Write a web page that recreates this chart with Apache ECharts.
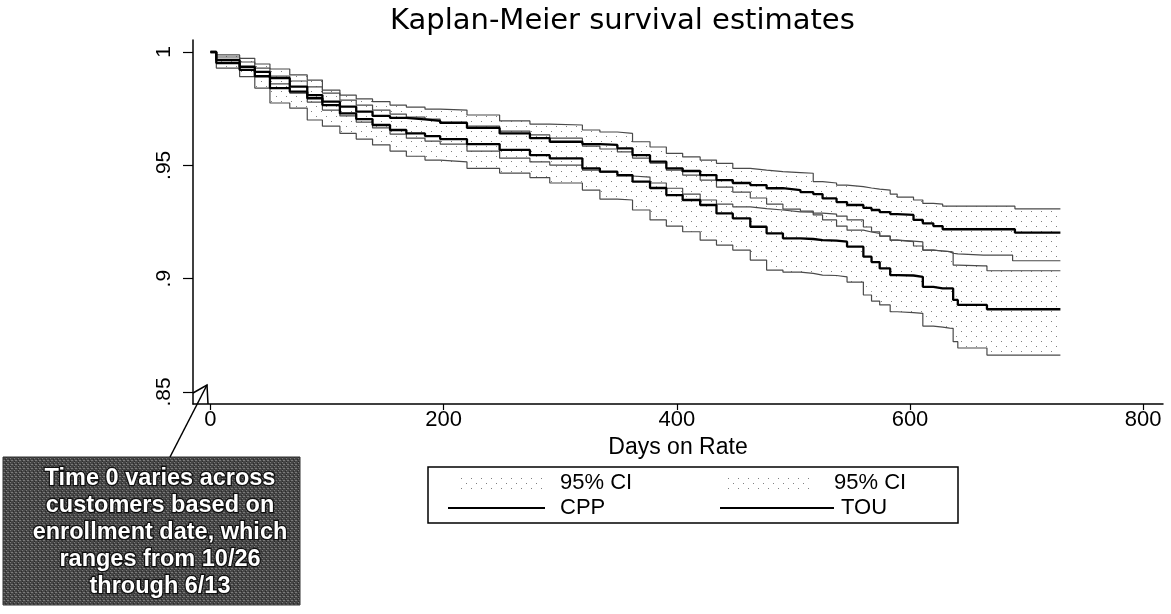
<!DOCTYPE html>
<html><head><meta charset="utf-8">
<script src="https://cdn.jsdelivr.net/npm/echarts@6/dist/echarts.min.js"></script>
<style>html,body{margin:0;padding:0;background:#fff}#c{width:1171px;height:614px}</style>
</head><body><div id="c"></div>
<script>
// ---- data ----
const days = [0, 5, 25, 38, 51, 68, 83, 96, 111, 125, 139, 154, 168, 184, 197, 220, 248, 274, 291, 319, 334, 349, 362, 377, 391, 405, 420, 434, 448, 463, 477, 491, 506, 517, 525, 537, 546, 560, 567, 574, 583, 589, 603, 611, 620, 628, 634, 637, 641, 663, 666, 688, 690, 729];
const cpp = [1.0000, .9965, .9935, .9912, .9885, .9847, .9810, .9781, .9759, .9737, .9718, .9709, .9703, .9696, .9687, .9665, .9641, .9620, .9604, .9594, .9590, .9575, .9545, .9516, .9487, .9475, .9457, .9435, .9422, .9413, .9399, .9391, .9382, .9373, .9354, .9338, .9325, .9312, .9303, .9294, .9285, .9281, .9259, .9244, .9232, .9218, .9218, .9218, .9218, .9218, .9218, .9218, .9203, .9203];
const cppHi = [1.0000, .9987, .9972, .9947, .9925, .9899, .9876, .9832, .9810, .9793, .9781, .9766, .9757, .9748, .9744, .9722, .9696, .9682, .9678, .9656, .9647, .9641, .9604, .9581, .9553, .9537, .9523, .9509, .9487, .9479, .9472, .9468, .9465, .9428, .9422, .9413, .9406, .9400, .9395, .9391, .9373, .9360, .9347, .9332, .9329, .9320, .9320, .9320, .9320, .9320, .9320, .9320, .9308, .9308];
const cppLo = [1.0000, .9956, .9921, .9890, .9859, .9819, .9779, .9744, .9718, .9691, .9665, .9638, .9620, .9607, .9594, .9563, .9532, .9515, .9501, .9479, .9470, .9453, .9448, .9422, .9399, .9373, .9347, .9329, .9317, .9309, .9303, .9295, .9294, .9281, .9259, .9232, .9214, .9206, .9200, .9188, .9170, .9163, .9144, .9126, .9122, .9119, .9112, .9109, .9104, .9104, .9104, .9079, .9079, .9079];
const tou = [1.0000, .9951, .9921, .9894, .9841, .9825, .9796, .9766, .9729, .9704, .9678, .9656, .9641, .9629, .9616, .9594, .9568, .9545, .9531, .9487, .9472, .9457, .9428, .9400, .9369, .9347, .9325, .9288, .9266, .9229, .9200, .9178, .9175, .9170, .9168, .9163, .9141, .9097, .9073, .9045, .9016, .9014, .9008, .8964, .8957, .8957, .8957, .8906, .8884, .8884, .8865, .8865, .8865, .8865];
const touHi = [1.0000, .9978, .9956, .9929, .9894, .9872, .9846, .9819, .9788, .9766, .9744, .9726, .9713, .9704, .9691, .9673, .9651, .9634, .9620, .9585, .9572, .9559, .9532, .9510, .9479, .9457, .9435, .9404, .9382, .9356, .9329, .9307, .9298, .9289, .9285, .9276, .9259, .9228, .9207, .9188, .9170, .9166, .9162, .9126, .9122, .9119, .9117, .9060, .9056, .9056, .9035, .9035, .9035, .9035];
const touLo = [1.0000, .9929, .9891, .9841, .9775, .9752, .9700, .9673, .9641, .9616, .9590, .9563, .9540, .9523, .9515, .9487, .9466, .9446, .9422, .9391, .9351, .9347, .9303, .9259, .9232, .9207, .9170, .9148, .9126, .9082, .9038, .9029, .9023, .9016, .9014, .9008, .8985, .8928, .8901, .8884, .8854, .8850, .8847, .8791, .8786, .8782, .8781, .8722, .8694, .8694, .8663, .8663, .8663, .8663];
const xTicks = [0, 200, 400, 600, 800];
const yTicks = [0.85, 0.9, 0.95, 1];
const yTickLabels = ['.85', '.9', '.95', '1'];
const titleText = 'Kaplan-Meier survival estimates';
const xName = 'Days on Rate';
const noteText = 'Time 0 varies across\ncustomers based on\nenrollment date, which\nranges from 10/26\nthrough 6/13';

// ---- styling helpers ----
const FONT = '"Liberation Sans", Arial, sans-serif';
const WIDE = '"DejaVu Sans", "Liberation Sans", sans-serif';
function dotCanvas() {
  const c = document.createElement('canvas'); c.width = 10; c.height = 10;
  const g = c.getContext('2d');
  g.fillStyle = '#808080';
  g.fillRect(1, 1, 1, 1); g.fillRect(6, 6, 1, 1);
  return c;
}
function darkCanvas() {
  const c = document.createElement('canvas'); c.width = 4; c.height = 4;
  const g = c.getContext('2d');
  g.fillStyle = '#464646'; g.fillRect(0, 0, 4, 4);
  g.fillStyle = '#7a7a7a'; g.fillRect(0, 0, 1, 1); g.fillRect(2, 2, 1, 1); g.fillRect(3, 0, 1, 1);
  g.fillStyle = '#2a2a2a'; g.fillRect(1, 3, 1, 1); g.fillRect(2, 1, 1, 1);
  return c;
}
const dots = { image: dotCanvas(), repeat: 'repeat' };
const dark = { image: darkCanvas(), repeat: 'repeat' };

function bandSeries(name, lo, hi) {
  const data = days.slice(0, -1).map((d, i) => [d, days[i + 1], lo[i], hi[i]]);
  return {
    type: 'custom', name, data, z: 1, silent: true, animation: false,
    itemStyle: { color: '#999' },
    encode: { x: [0, 1], y: [2, 3] },
    renderItem: (params, api) => {
      const a = api.coord([api.value(0), api.value(3)]);
      const b = api.coord([api.value(1), api.value(2)]);
      return { type: 'rect', shape: { x: a[0], y: a[1], width: b[0] - a[0], height: b[1] - a[1] }, style: { fill: dots } };
    }
  };
}
function lineSeries(name, vals, width, color, z) {
  return {
    type: 'line', name, step: 'end', symbol: 'none', silent: true, animation: false, z,
    data: days.map((d, i) => [d, vals[i]]),
    lineStyle: { width, color }, itemStyle: { color }
  };
}
function legendOne(name, left, top, w, h, pad, icon, extra) {
  return {
    left, top, itemWidth: w, itemHeight: h, selectedMode: false,
    formatter: n => n.indexOf('CI') === 0 ? '95% CI' : n,
    textStyle: { fontSize: 22, color: '#000', fontFamily: FONT, padding: [0, 0, 0, pad] },
    data: [Object.assign({ name, icon }, extra || {})]
  };
}

const chart = echarts.init(document.getElementById('c'));
chart.setOption({
  animation: false,
  backgroundColor: '#fff',
  title: { text: titleText, left: 385, top: 2, textStyle: { fontSize: 29, fontWeight: 'normal', color: '#000', fontFamily: WIDE } },
  grid: { left: 193, right: 8, top: 40, bottom: 210, containLabel: false, outerBoundsMode: 'none' },
  xAxis: {
    type: 'value', min: -15, max: 817,
    name: xName, nameLocation: 'middle', nameGap: 24,
    nameTextStyle: { fontSize: 23, color: '#000', fontFamily: FONT },
    axisLine: { onZero: false, lineStyle: { color: '#000', width: 1.5 } },
    axisTick: { customValues: xTicks, length: 6, lineStyle: { color: '#000', width: 1.2 } },
    axisLabel: { customValues: xTicks, fontSize: 22, color: '#000', fontFamily: FONT, margin: 5 },
    splitLine: { show: false }
  },
  yAxis: {
    type: 'value', min: 0.8447, max: 1.0053,
    axisLine: { show: true, onZero: false, lineStyle: { color: '#000', width: 1.5 } },
    axisTick: { show: true, customValues: yTicks, length: 10, lineStyle: { color: '#000', width: 1.2 } },
    axisLabel: {
      customValues: yTicks, rotate: 90, fontSize: 21, color: '#000', fontFamily: FONT, margin: 18,
      formatter: v => { const i = yTicks.findIndex(t => Math.abs(t - v) < 1e-6); return i >= 0 ? yTickLabels[i] : ''; }
    },
    splitLine: { show: false }
  },
  legend: [
    legendOne('CI_CPP', 455, 467, 83, 12, 12, 'rect', { itemStyle: { color: dots } }),
    legendOne('CI_TOU', 722, 467, 84, 12, 18, 'rect', { itemStyle: { color: dots } }),
    legendOne('CPP', 443, 492, 97, 2, 10, 'rect'),
    legendOne('TOU', 715, 492, 114, 2, 2, 'rect')
  ],
  graphic: [
    { type: 'rect', shape: { x: 428, y: 467, width: 530, height: 56 }, style: { fill: 'none', stroke: '#000', lineWidth: 1.5 }, z: 10 },
    { type: 'rect', shape: { x: 3, y: 457, width: 297, height: 148 }, style: { fill: dark, stroke: '#333', lineWidth: 1 }, z: 10 },
    { type: 'text', x: 160, y: 465, style: { text: noteText, fill: '#fff', stroke: '#111', lineWidth: 2.5, fontSize: 23.5, fontWeight: 'bold', fontFamily: FONT, align: 'center', lineHeight: 27 }, z: 11 },
    { type: 'polyline', shape: { points: [[170, 457], [207, 385]] }, style: { stroke: '#000', lineWidth: 1.5, fill: 'none' }, z: 10 },
    { type: 'polyline', shape: { points: [[193, 393], [207, 385], [208, 404]] }, style: { stroke: '#000', lineWidth: 1.5, fill: 'none' }, z: 10 }
  ],
  series: [
    bandSeries('CI_CPP', cppLo, cppHi),
    bandSeries('CI_TOU', touLo, touHi),
    lineSeries('cppHiLine', cppHi, 1.2, '#4a4a4a', 3),
    lineSeries('cppLoLine', cppLo, 1.2, '#4a4a4a', 3),
    lineSeries('touHiLine', touHi, 1.2, '#4a4a4a', 3),
    lineSeries('touLoLine', touLo, 1.2, '#4a4a4a', 3),
    lineSeries('CPP', cpp, 2.3, '#000', 5),
    lineSeries('TOU', tou, 2.3, '#000', 5)
  ]
});
</script></body></html>
